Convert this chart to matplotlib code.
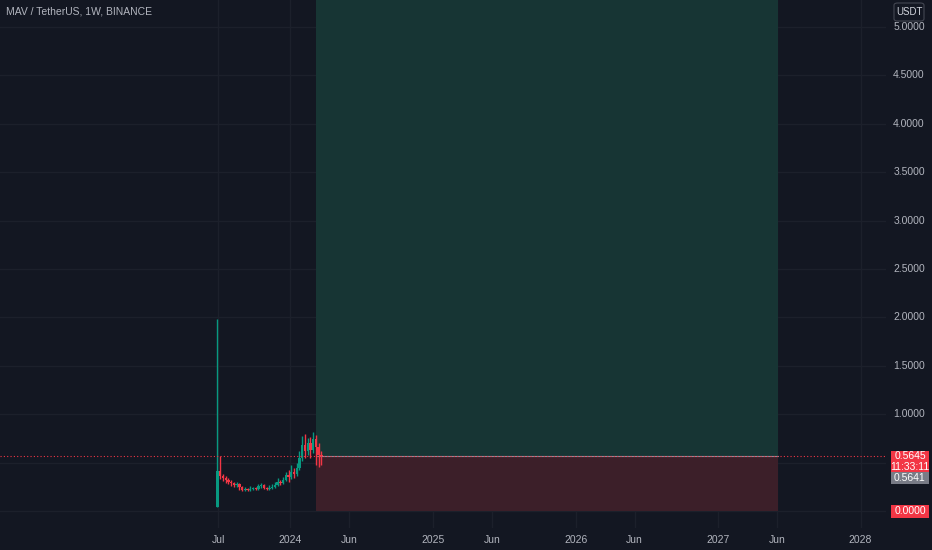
import matplotlib
matplotlib.use("Agg")
import matplotlib.pyplot as plt
import matplotlib.dates as mdates
from matplotlib.patches import Rectangle, FancyBboxPatch
import datetime as dt

# ---------------- data ----------------
start_week = dt.date(2023, 6, 26)
opens  = [0.04, 0.41, 0.36, 0.34, 0.32, 0.30, 0.29, 0.27, 0.28, 0.25, 0.22, 0.23, 0.22,
          0.23, 0.24, 0.23, 0.26, 0.27, 0.24, 0.23, 0.24, 0.25, 0.27, 0.30, 0.29, 0.32,
          0.37, 0.35, 0.40, 0.38, 0.44, 0.55, 0.68, 0.62, 0.70, 0.63, 0.74, 0.66, 0.58]
closes = [0.41, 0.36, 0.34, 0.32, 0.30, 0.29, 0.27, 0.28, 0.25, 0.22, 0.23, 0.22, 0.23,
          0.24, 0.23, 0.26, 0.27, 0.24, 0.23, 0.24, 0.25, 0.27, 0.30, 0.29, 0.32, 0.37,
          0.35, 0.40, 0.38, 0.44, 0.55, 0.68, 0.62, 0.70, 0.63, 0.74, 0.66, 0.58, 0.5645]
highs  = [1.98, 0.57, 0.38, 0.36, 0.34, 0.32, 0.30, 0.30, 0.29, 0.26, 0.25, 0.24, 0.26,
          0.25, 0.25, 0.28, 0.29, 0.28, 0.25, 0.27, 0.28, 0.30, 0.34, 0.32, 0.35, 0.40,
          0.42, 0.48, 0.44, 0.50, 0.62, 0.77, 0.80, 0.75, 0.76, 0.82, 0.78, 0.70, 0.62]
lows   = [0.04, 0.33, 0.31, 0.29, 0.28, 0.26, 0.25, 0.25, 0.22, 0.21, 0.21, 0.21, 0.21,
          0.22, 0.22, 0.22, 0.24, 0.23, 0.22, 0.22, 0.23, 0.24, 0.26, 0.27, 0.28, 0.31,
          0.30, 0.33, 0.34, 0.36, 0.42, 0.52, 0.55, 0.58, 0.55, 0.60, 0.48, 0.45, 0.48]

entry_price = 0.5645
target_price = 5.6
stop_price = 0.0
position_start = dt.date(2024, 3, 7)
position_end = dt.date(2027, 6, 3)
last_price = 0.5641
countdown = "11:33:11"

price_ticks = [0.0, 1.0, 1.5, 2.0, 2.5, 3.0, 3.5, 4.0, 4.5, 5.0]
time_ticks = [dt.date(2023, 7, 1), dt.date(2024, 1, 1), dt.date(2024, 6, 1), dt.date(2025, 1, 1),
              dt.date(2025, 6, 1), dt.date(2026, 1, 1), dt.date(2026, 6, 1), dt.date(2027, 1, 1),
              dt.date(2027, 6, 1), dt.date(2028, 1, 1)]
time_labels = ["Jul", "2024", "Jun", "2025", "Jun", "2026", "Jun", "2027", "Jun", "2028"]
title = "MAV / TetherUS, 1W, BINANCE"

# ---------------- style ----------------
BG = "#131722"
GRID = "#1c202b"
UP = "#089981"
DOWN = "#f23645"
TXT = "#b2b5be"
plt.rcParams['font.family'] = ['Liberation Sans Narrow', 'Liberation Sans', 'DejaVu Sans']

W, H = 932, 550
fig = plt.figure(figsize=(W / 100, H / 100), dpi=100, facecolor=BG)
plot_right = 886
plot_bottom = 528
ax = fig.add_axes([0, 1 - plot_bottom / H, plot_right / W, plot_bottom / H])
ax.set_facecolor(BG)
for s in ax.spines.values():
    s.set_visible(False)

x0 = mdates.date2num(dt.date(2021, 12, 19))
x1 = mdates.date2num(dt.date(2028, 3, 6))
ax.set_xlim(x0, x1)
ax.set_ylim(-0.1756, 5.279)
ax.set_xticks([])
ax.set_yticks([])

# grid
for t in time_ticks:
    ax.axvline(mdates.date2num(t), color=GRID, lw=1, zorder=0)
for p in price_ticks + [0.5]:
    ax.axhline(p, color=GRID, lw=1, zorder=0)

# position boxes
xs = mdates.date2num(position_start)
xe = mdates.date2num(position_end)
ax.add_patch(Rectangle((xs, entry_price), xe - xs, target_price - entry_price,
                       facecolor="#173534", edgecolor="none", zorder=1))
ax.add_patch(Rectangle((xs, stop_price), xe - xs, entry_price - stop_price,
                       facecolor="#3c1f29", edgecolor="none", zorder=1))
ax.plot([xs, xe], [entry_price, entry_price], color="#8a8f9c", lw=0.8, zorder=2)

# candles
dates = [mdates.date2num(start_week + dt.timedelta(days=7 * i + 3)) for i in range(len(opens))]
for d, o, c, h, l in zip(dates, opens, closes, highs, lows):
    col = UP if c >= o else DOWN
    ax.vlines(d, l, h, color=col, lw=1, zorder=3)
    ax.bar(d, max(abs(c - o), 0.008), bottom=min(o, c), width=6,
           color=col, edgecolor="none", zorder=4)

# last price dotted line
ax.axhline(entry_price, color=DOWN, lw=0.8, ls=(0, (1, 2)), zorder=5)

# title
ax.text(6 / plot_right, 1 - 11 / plot_bottom, title, transform=ax.transAxes,
        color=TXT, fontsize=7.5, va="center", ha="left")

# price axis labels
def ypix(p):
    return 511 - p * 96.8

for p in price_ticks:
    if p == 0.0:
        continue
    fig.text(909 / W, 1 - ypix(p) / H, f"{p:.4f}", color=TXT, fontsize=7.5,
             ha="center", va="center")

def label_box(y_top, y_bot, color, lines, tcolor="white"):
    fig.patches.append(Rectangle((891 / W, 1 - y_bot / H), 38 / W, (y_bot - y_top) / H,
                                 transform=fig.transFigure, facecolor=color, edgecolor="none"))
    n = len(lines)
    for i, s in enumerate(lines):
        yc = y_top + (y_bot - y_top) * (i + 0.5) / n
        fig.text(910 / W, 1 - yc / H, s, color=tcolor, fontsize=7.5, ha="center", va="center")

label_box(451, 472, DOWN, [f"{entry_price:.4f}", countdown])
label_box(472, 484, "#787b86", [f"{last_price:.4f}"])
label_box(ypix(stop_price) - 6, ypix(stop_price) + 7, DOWN, [f"{stop_price:.4f}"])

# USDT box
fig.patches.append(FancyBboxPatch((894 / W, 1 - 21 / H), 30 / W, 18 / H,
                                  boxstyle="round,pad=0,rounding_size=0.004",
                                  transform=fig.transFigure, facecolor=BG,
                                  edgecolor="#434651", lw=0.8))
fig.text(909 / W, 1 - 12 / H, "USDT", color="#d1d4dc", fontsize=7, ha="center", va="center")

# time axis labels
for t, lab in zip(time_ticks, time_labels):
    xd = mdates.date2num(t)
    xf = (xd - x0) / (x1 - x0) * plot_right / W
    fig.text(xf, 1 - 540 / H, lab, color=TXT, fontsize=7.5, ha="center", va="center")

fig.savefig("out.png", dpi=100, facecolor=BG)
